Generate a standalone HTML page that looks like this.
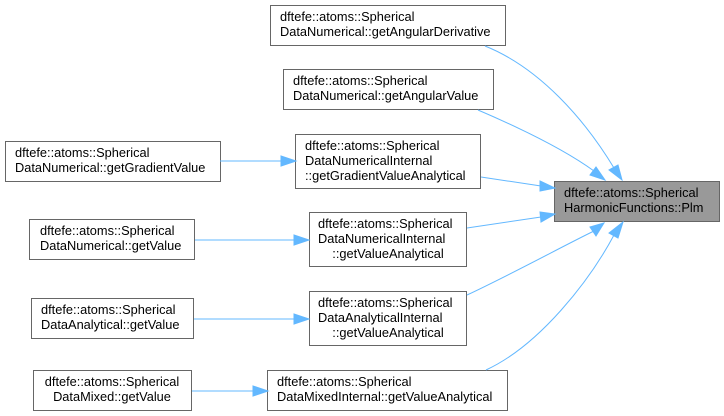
<!DOCTYPE html>
<html><head><meta charset="utf-8"><style>
body{margin:0;background:#fff}
svg{display:block}
text{font-family:"Liberation Sans",Arial,sans-serif;font-size:12.8px;fill:#000}
.b{fill:#fff;stroke:#666;stroke-width:1}
.e{fill:none;stroke:#63b8ff;stroke-width:1}
.a{fill:#63b8ff;stroke:#63b8ff}
</style></head><body>
<svg width="724" height="416" viewBox="0 0 724 416" xmlns="http://www.w3.org/2000/svg">
<rect x="554.5" y="181.5" width="165" height="40" fill="#999" stroke="#666"/>
<text x="564" y="197">dftefe::atoms::Spherical</text>
<text x="564" y="212">HarmonicFunctions::Plm</text>

<rect class="b" x="270.5" y="5.5" width="235" height="40"/>
<text x="280" y="21">dftefe::atoms::Spherical</text>
<text x="280" y="36">DataNumerical::getAngularDerivative</text>

<rect class="b" x="283.5" y="69.5" width="210" height="40"/>
<text x="293" y="85">dftefe::atoms::Spherical</text>
<text x="293" y="100">DataNumerical::getAngularValue</text>

<rect class="b" x="5.5" y="141.5" width="215" height="40"/>
<text x="15" y="157">dftefe::atoms::Spherical</text>
<text x="15" y="172">DataNumerical::getGradientValue</text>

<rect class="b" x="295.5" y="134.5" width="185" height="54"/>
<text x="305" y="150">dftefe::atoms::Spherical</text>
<text x="305" y="165">DataNumericalInternal</text>
<text x="305" y="180">::getGradientValueAnalytical</text>

<rect class="b" x="29.5" y="219.5" width="165" height="40"/>
<text x="40" y="235">dftefe::atoms::Spherical</text>
<text x="40" y="250">DataNumerical::getValue</text>

<rect class="b" x="309.5" y="212.5" width="157" height="54"/>
<text x="318" y="228">dftefe::atoms::Spherical</text>
<text x="318" y="243">DataNumericalInternal</text>
<text x="388" y="258" text-anchor="middle">::getValueAnalytical</text>

<rect class="b" x="31.5" y="298.5" width="162" height="40"/>
<text x="41" y="314">dftefe::atoms::Spherical</text>
<text x="41" y="329">DataAnalytical::getValue</text>

<rect class="b" x="309.5" y="291.5" width="157" height="54"/>
<text x="318" y="307">dftefe::atoms::Spherical</text>
<text x="318" y="322">DataAnalyticalInternal</text>
<text x="388" y="337" text-anchor="middle">::getValueAnalytical</text>

<rect class="b" x="33.5" y="370.5" width="158" height="40"/>
<text x="112" y="386" text-anchor="middle">dftefe::atoms::Spherical</text>
<text x="112" y="401" text-anchor="middle">DataMixed::getValue</text>

<rect class="b" x="267.5" y="370.5" width="240" height="40"/>
<text x="277" y="386">dftefe::atoms::Spherical</text>
<text x="277" y="401">DataMixedInternal::getValueAnalytical</text>

<path class="e" d="M485,46 C540,68 585,120 614,168"/>
<polygon class="a" points="609,170 622,180 618,165"/>
<path class="e" d="M478,110 C520,128 565,150 594,171"/>
<polygon class="a" points="590,175 605,180 596,167"/>
<path class="e" d="M481,177 L541,186"/>
<polygon class="a" points="540,181 555,188 540,191"/>
<path class="e" d="M467,228 L541,217"/>
<polygon class="a" points="540,212 555,214 541,222"/>
<path class="e" d="M467,295 C510,275 565,245 594,231"/>
<polygon class="a" points="590,227 604,223 596,236"/>
<path class="e" d="M486,370 C540,345 590,280 614,235"/>
<polygon class="a" points="609,233 623,222 618,238"/>

<path class="e" d="M220,161 L282,161"/>
<polygon class="a" points="281,156 296,161 281,166"/>
<path class="e" d="M195,240 L295,240"/>
<polygon class="a" points="294,235 309,240 294,245"/>
<path class="e" d="M194,319 L295,319"/>
<polygon class="a" points="294,314 309,319 294,324"/>
<path class="e" d="M192,391 L254,391"/>
<polygon class="a" points="253,386 268,391 253,396"/>
</svg>
</body></html>
